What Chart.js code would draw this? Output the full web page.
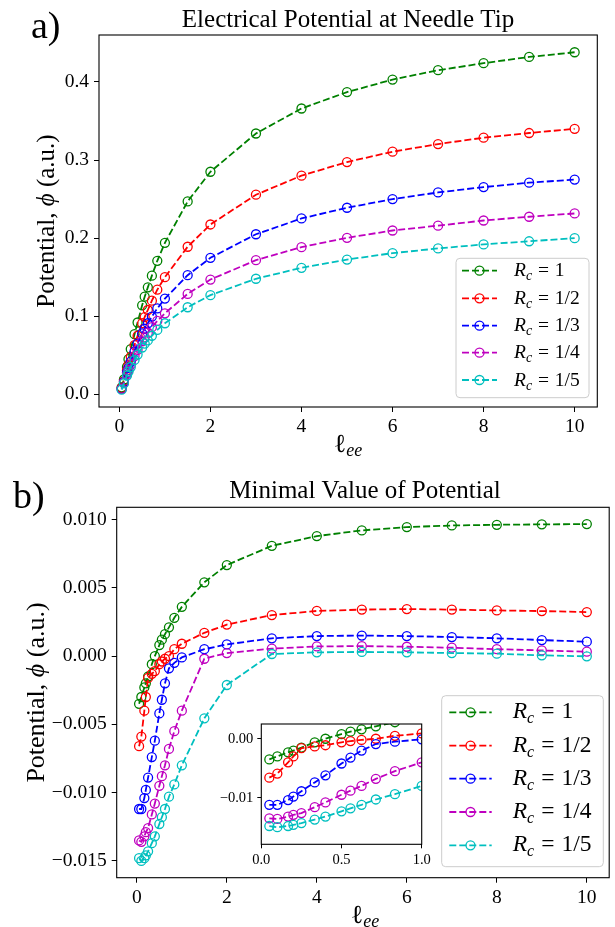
<!DOCTYPE html>
<html><head><meta charset="utf-8">
<script src="https://cdn.jsdelivr.net/npm/chart.js@4.4.1/dist/chart.umd.min.js"></script>
<style>
html,body{margin:0;padding:0;background:#fff;}
#wrap{position:relative;width:615px;height:927px;overflow:hidden;background:#fff;}
canvas{position:absolute;}
</style>
</head><body>
<div id="wrap">
<canvas id="c1" width="615" height="463" style="left:0;top:0;width:615px;height:463px"></canvas>
<canvas id="c2" width="615" height="464" style="left:0;top:463px;width:615px;height:464px"></canvas>
<canvas id="c3" width="240" height="190" style="left:200px;top:690px;width:240px;height:190px"></canvas>
</div>
<script>
const SERIF = '"Liberation Serif", "DejaVu Serif", serif';

// x values (l_ee)
const lee = [0.05, 0.1, 0.167, 0.2, 0.25, 0.333, 0.4, 0.5, 0.556, 0.625, 0.714, 0.833, 1, 1.5, 2, 3, 4, 5, 6, 7, 8, 9, 10];

// a) potential at needle tip
const tipRc1 = [0.009, 0.019, 0.035, 0.045, 0.058, 0.077, 0.092, 0.114, 0.125, 0.137, 0.152, 0.171, 0.194, 0.247, 0.285, 0.334, 0.366, 0.387, 0.403, 0.415, 0.424, 0.432, 0.438];
const tipRc2 = [0.008, 0.017, 0.031, 0.038, 0.048, 0.063, 0.075, 0.091, 0.099, 0.108, 0.120, 0.134, 0.150, 0.189, 0.2175, 0.2556, 0.280, 0.2974, 0.3107, 0.3205, 0.3286, 0.3346, 0.340];
const tipRc3 = [0.007, 0.016, 0.028, 0.034, 0.042, 0.055, 0.065, 0.078, 0.084, 0.091, 0.0996, 0.110, 0.1226, 0.1526, 0.1748, 0.205, 0.2252, 0.2389, 0.250, 0.2585, 0.2654, 0.271, 0.275];
const tipRc4 = [0.007, 0.015, 0.026, 0.031, 0.038, 0.049, 0.057, 0.068, 0.073, 0.079, 0.086, 0.094, 0.1038, 0.1286, 0.147, 0.1718, 0.1885, 0.2004, 0.2098, 0.216, 0.2226, 0.2274, 0.2316];
const tipRc5 = [0.006, 0.014, 0.024, 0.029, 0.035, 0.044, 0.051, 0.060, 0.065, 0.069, 0.075, 0.0825, 0.091, 0.1115, 0.127, 0.148, 0.162, 0.1726, 0.1808, 0.1868, 0.192, 0.196, 0.200];

// b) minimal value of potential
const minRc1 = [-0.0035, -0.0030, -0.0023, -0.0020, -0.0015, -0.0006, 0.0000, 0.0008, 0.0012, 0.0016, 0.0021, 0.0028, 0.0036, 0.0054, 0.00666, 0.00807, 0.00878, 0.0092, 0.00944, 0.00956, 0.00961, 0.00964, 0.00966];
const minRc2 = [-0.0066, -0.0059, -0.0040, -0.0030, -0.0016, -0.0013, -0.0011, -0.0006, -0.0004, -0.0002, 0.0000, 0.0005, 0.0009, 0.0017, 0.0023, 0.0030, 0.0033, 0.0034, 0.00344, 0.0034, 0.00334, 0.00329, 0.00322];
const minRc3 = [-0.0112, -0.0112, -0.0104, -0.0098, -0.0089, -0.0074, -0.0062, -0.0042, -0.0032, -0.0020, -0.0009, -0.0005, -0.0001, 0.0005, 0.00085, 0.0013, 0.00146, 0.0015, 0.00146, 0.00139, 0.0013, 0.00117, 0.00105];
const minRc4 = [-0.0135, -0.0136, -0.0132, -0.0129, -0.0126, -0.0116, -0.0108, -0.0095, -0.0088, -0.0080, -0.0068, -0.0055, -0.0040, -0.0002, 0.00022, 0.00054, 0.0007, 0.00073, 0.00068, 0.00061, 0.0005, 0.00041, 0.00032];
const minRc5 = [-0.0148, -0.0150, -0.0148, -0.0146, -0.0143, -0.0137, -0.0132, -0.0123, -0.0118, -0.0112, -0.0103, -0.0094, -0.0080, -0.00456, -0.00212, 0.00015, 0.00027, 0.0003, 0.00027, 0.00022, 0.00017, 0.00005, -0.00002];

const rcLabels = ['1', '1/2', '1/3', '1/4', '1/5'];
const colors = ['#008000', '#ff0000', '#0000ff', '#bf00bf', '#00bfbf'];

const mainTicksX = [0, 2, 4, 6, 8, 10];
const tipTicksY = [0, 0.1, 0.2, 0.3, 0.4];
const minTicksY = [-0.015, -0.010, -0.005, 0, 0.005, 0.010];
const insetTicksX = [0, 0.5, 1];
const insetTicksY = [-0.01, 0];

const tipTitle = 'Electrical Potential at Needle Tip';
const minTitle = 'Minimal Value of Potential';

function fmt(v, d) {
  const s = Math.abs(v).toFixed(d);
  return (v < 0 && Number(s) !== 0 ? '\u2212' : '') + s;
}

function fontOf(r) { return (r.italic ? 'italic ' : '') + r.size + 'px ' + SERIF; }

function drawRuns(ctx, runs, x, y, align) {
  const widths = runs.map(r => { ctx.font = fontOf(r); return ctx.measureText(r.t).width; });
  let total = 0;
  runs.forEach((r, i) => { total += widths[i] + (r.pre || 0); });
  let cx = align === 'center' ? x - total / 2 : x;
  ctx.textAlign = 'left';
  runs.forEach((r, i) => {
    cx += (r.pre || 0);
    ctx.font = fontOf(r);
    ctx.fillText(r.t, cx, y + (r.dy || 0));
    cx += widths[i];
  });
}

function buildChart(id, cfg) {
  const cv = document.getElementById(id);
  const W = cv.width, H = cv.height, b = cfg.box;
  const datasets = cfg.series.map((ys, i) => ({
    data: cfg.x.map((xv, j) => ({ x: xv, y: ys[j] })),
    borderColor: colors[i], backgroundColor: colors[i],
    borderWidth: cfg.lw, borderDash: cfg.dash,
    pointRadius: cfg.pr, pointHoverRadius: cfg.pr, pointBorderWidth: cfg.pbw,
    pointBackgroundColor: 'rgba(0,0,0,0)', pointBorderColor: colors[i],
    fill: false, tension: 0, order: cfg.series.length - 1 - i
  }));
  const axis = (min, max, ticks, f, isX) => ({
    type: 'linear', min: min, max: max,
    afterBuildTicks: s => { s.ticks = ticks.map(v => ({ value: v })); },
    ticks: { font: { family: SERIF, size: cfg.fs }, color: '#000', padding: isX ? cfg.xpad : cfg.ypad,
      callback: v => f(v), autoSkip: false, maxRotation: 0, minRotation: 0 },
    grid: { display: true, drawOnChartArea: false, drawTicks: true, tickLength: cfg.tl, tickWidth: 1, color: '#000', lineWidth: 1 },
    border: { display: false },
    afterFit: s => { if (isX) s.height = H - b.bottom; else s.width = b.left; }
  });
  return new Chart(cv, {
    type: 'line',
    data: { datasets },
    options: {
      responsive: false, animation: false, devicePixelRatio: 1, events: [],
      layout: { padding: { left: 0, top: b.top, right: W - b.right, bottom: 0 } },
      plugins: { legend: { display: false }, tooltip: { enabled: false }, title: { display: false } },
      scales: {
        x: axis(cfg.xmin, cfg.xmax, cfg.xticks, cfg.xfmt, true),
        y: axis(cfg.ymin, cfg.ymax, cfg.yticks, cfg.yfmt, false)
      }
    },
    plugins: [{
      id: 'deco',
      beforeDraw(c) {
        if (cfg.whiteArea) {
          const a = c.chartArea, ctx = c.ctx;
          ctx.save(); ctx.fillStyle = '#fff';
          ctx.fillRect(a.left, a.top, a.right - a.left, a.bottom - a.top);
          ctx.restore();
        }
      },
      afterDatasetsDraw(c) {
        const a = c.chartArea, ctx = c.ctx;
        ctx.save();
        ctx.strokeStyle = '#000'; ctx.lineWidth = 1.1; ctx.setLineDash([]);
        ctx.strokeRect(a.left, a.top, a.right - a.left, a.bottom - a.top);
        ctx.restore();
        if (cfg.legend) {
          const L = cfg.legend;
          ctx.save();
          const [l, t, r, bt] = L.box;
          ctx.beginPath();
          if (ctx.roundRect) ctx.roundRect(l, t, r - l, bt - t, 4); else ctx.rect(l, t, r - l, bt - t);
          ctx.fillStyle = 'rgba(255,255,255,0.8)'; ctx.fill();
          ctx.strokeStyle = '#cccccc'; ctx.lineWidth = 1; ctx.stroke();
          rcLabels.forEach((lbl, i) => {
            const yy = L.rows[i];
            ctx.strokeStyle = colors[i]; ctx.lineWidth = cfg.lw; ctx.setLineDash(cfg.dash);
            ctx.beginPath(); ctx.moveTo(L.line[0], yy); ctx.lineTo(L.line[1], yy); ctx.stroke();
            ctx.setLineDash([]); ctx.lineWidth = cfg.pbw;
            ctx.beginPath(); ctx.arc(L.cx, yy, cfg.pr, 0, Math.PI * 2); ctx.stroke();
            ctx.fillStyle = '#000'; ctx.textBaseline = 'alphabetic';
            const fs = L.fs;
            drawRuns(ctx, [
              { t: 'R', size: fs, italic: true },
              { t: 'c', size: Math.round(fs * 0.7), italic: true, dy: fs * 0.22 },
              { t: '=', size: fs, pre: fs * 0.3 },
              { t: lbl, size: fs, pre: fs * 0.3 }
            ], L.tx, yy + L.bo, 'left');
          });
          ctx.restore();
        }
      },
      afterDraw(c) {
        if (!cfg.texts) return;
        const T = cfg.texts, ctx = c.ctx;
        ctx.save();
        ctx.fillStyle = '#000';
        ctx.textBaseline = 'alphabetic';
        drawRuns(ctx, [{ t: T.panel, size: T.panelFs }], T.panelX, T.panelY, 'left');
        drawRuns(ctx, [{ t: T.title, size: T.titleFs }], T.titleX, T.titleY, 'center');
        drawRuns(ctx, [{ t: '\u2113', size: T.xlFs }, { t: 'ee', size: Math.round(T.xlFs * 0.68), italic: true, dy: 4 }], T.xlX, T.xlY, 'center');
        ctx.translate(T.ylX, T.ylY);
        ctx.rotate(-Math.PI / 2);
        ctx.textBaseline = 'middle';
        drawRuns(ctx, [
          { t: 'Potential, ', size: T.ylFs },
          { t: '\u03D5', size: T.ylFs, italic: true },
          { t: ' (a.u.)', size: T.ylFs }
        ], 0, 0, 'center');
        ctx.restore();
      }
    }]
  });
}

buildChart('c1', {
  box: { left: 99, right: 597.3, top: 35, bottom: 407 },
  x: lee, series: [tipRc1, tipRc2, tipRc3, tipRc4, tipRc5],
  xmin: -0.4475, xmax: 10.4975, ymin: -0.0162, ymax: 0.4601,
  xticks: mainTicksX, yticks: tipTicksY,
  xfmt: v => String(v), yfmt: v => fmt(v, 1),
  fs: 19.5, xpad: 3, ypad: 5, tl: 5,
  lw: 1.8, dash: [7, 3], pr: 4.5, pbw: 1.3,
  legend: { box: [456, 258.3, 589, 397.7], rows: [270.7, 298.3, 325.7, 352.7, 380], line: [462, 497], cx: 479.5, tx: 514, fs: 19.5, bo: 5.5 },
  texts: { panel: 'a)', panelFs: 38, panelX: 31, panelY: 37.5,
    title: tipTitle, titleFs: 25, titleX: 348, titleY: 27,
    xlFs: 26, xlX: 348, xlY: 451.5,
    ylFs: 25, ylX: 47, ylY: 221 }
});

buildChart('c2', {
  box: { left: 116.7, right: 614, top: 44.3, bottom: 414.7 },
  x: lee, series: [minRc1, minRc2, minRc3, minRc4, minRc5],
  xmin: -0.4475, xmax: 10.4975, ymin: -0.01623, ymax: 0.01089,
  xticks: mainTicksX, yticks: minTicksY,
  xfmt: v => String(v), yfmt: v => fmt(v, 3),
  fs: 19.5, xpad: 3, ypad: 5, tl: 5,
  lw: 1.8, dash: [7, 3], pr: 4.5, pbw: 1.3,
  legend: { box: [441.7, 232.7, 603.3, 403.7], rows: [249.3, 282.7, 315.7, 349, 382.3], line: [449.3, 491.7], cx: 470.5, tx: 512.7, fs: 23.5, bo: 6 },
  texts: { panel: 'b)', panelFs: 38, panelX: 13, panelY: 45.3,
    title: minTitle, titleFs: 25, titleX: 365, titleY: 34.5,
    xlFs: 26, xlX: 365, xlY: 460,
    ylFs: 26, ylX: 37, ylY: 229.5 }
});

buildChart('c3', {
  box: { left: 61.3, right: 221.7, top: 34, bottom: 154.3 },
  x: lee, series: [minRc1, minRc2, minRc3, minRc4, minRc5],
  xmin: 0, xmax: 1, ymin: -0.0179, ymax: 0.0025,
  xticks: insetTicksX, yticks: insetTicksY,
  xfmt: v => fmt(v, 1), yfmt: v => fmt(v, 2),
  fs: 14.5, xpad: 3, ypad: 4, tl: 4,
  lw: 1.8, dash: [7, 3], pr: 4.5, pbw: 1.3,
  whiteArea: true
});
</script>
</body></html>
